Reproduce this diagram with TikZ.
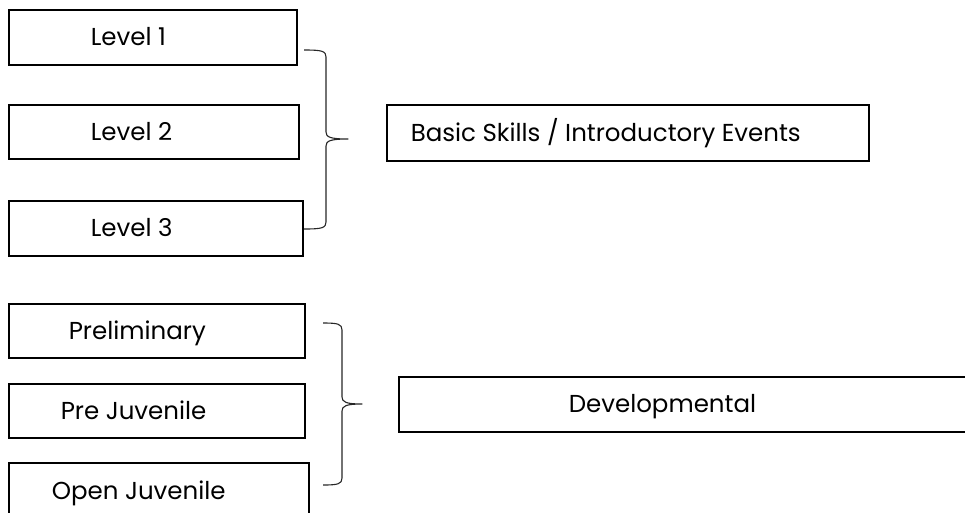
\documentclass[tikz,border=0pt]{standalone}
\usepackage{fontspec}
\setmainfont{Poppins}
\begin{document}
\begin{tikzpicture}[x=1pt,y=-1pt,
  box/.style={draw=black, line width=1.6pt, inner sep=0pt, anchor=north west,
    font=\fontsize{24.5}{28}\selectfont, text height=17pt, text depth=0pt},
  bracestyle/.style={draw=black!85, line width=1.1pt, line join=round}]
\useasboundingbox (0,0) rectangle (965,512);
\newcommand{\bx}[7]{%
  \node[box, minimum width={(#4-#2)*1pt}, minimum height={(#5-#3)*1pt}] (#1) at (#2,#3)
    {\makebox[\dimexpr #4pt-#2pt\relax][l]{\hspace{\dimexpr #6pt-#2pt\relax}#7}};}
\bx{l1}{8}{9}{296}{64}{90}{Level 1}
\bx{l2}{8}{104}{298}{158}{90}{Level 2}
\bx{l3}{8}{200}{302}{255}{90}{Level 3}
\bx{basic}{386}{104}{868}{160}{410}{Basic Skills / Introductory Events}
\bx{p1}{8}{303}{304}{357}{68}{Preliminary}
\bx{p2}{8}{383}{304}{437}{60}{Pre Juvenile}
\bx{p3}{8}{462}{308}{518}{51}{Open Juvenile}
\bx{dev}{398}{376}{990}{431}{568}{Developmental}
% braces
\coordinate (b1s) at (304,50);
\coordinate (b1t) at (348,139);
\coordinate (b1e) at (304,229);
\draw[bracestyle] (b1s) .. controls (322,50) and (326,51) .. (326,57) -- (326,132)
  .. controls (326,137) and (330,139) .. (b1t)
  .. controls (330,139) and (326,141) .. (326,146) -- (326,222)
  .. controls (326,228) and (322,229) .. (b1e);
\coordinate (b2s) at (323,323);
\coordinate (b2t) at (362,404);
\coordinate (b2e) at (323,485);
\draw[bracestyle] (b2s) .. controls (338,323) and (342,324) .. (342,330) -- (342,397)
  .. controls (342,402) and (346,404) .. (b2t)
  .. controls (346,404) and (342,406) .. (342,411) -- (342,478)
  .. controls (342,484) and (338,485) .. (b2e);
\end{tikzpicture}
\end{document}
